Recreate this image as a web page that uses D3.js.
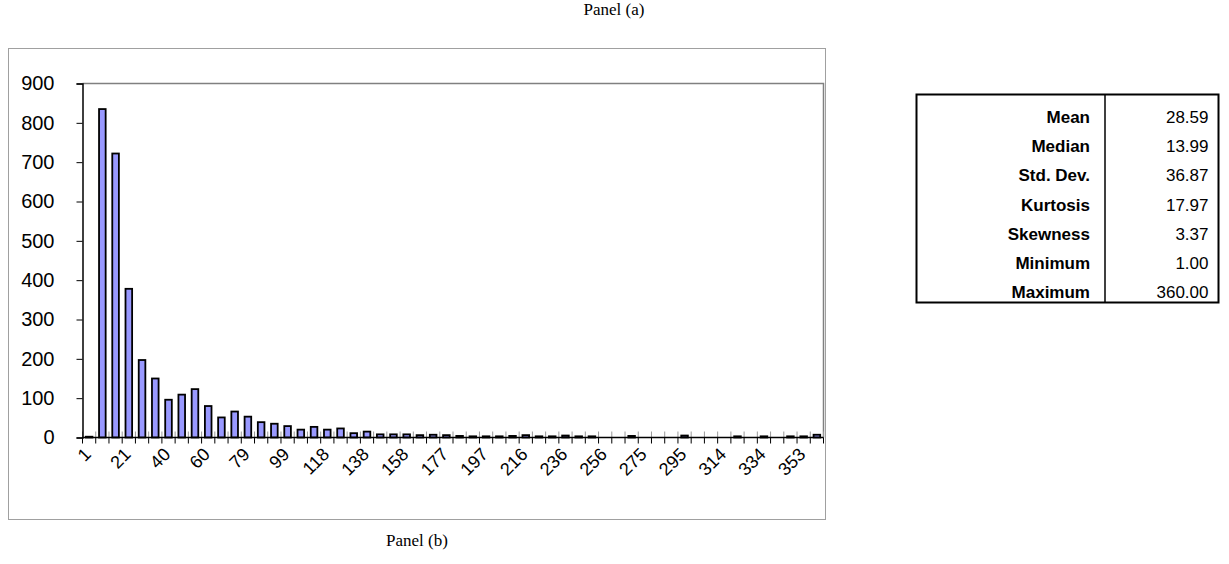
<!DOCTYPE html>
<html>
<head>
<meta charset="utf-8">
<script src="https://cdn.jsdelivr.net/npm/d3@7"></script>
<style>
  body { margin: 0; background: #fff; }
  svg { display: block; }
</style>
</head>
<body>
<svg id="chart" width="1229" height="564"></svg>
<script>
// Histogram bins (lower bound of each bin, rounded)
const categories = [
  "1","8","14","21","27","34","40","47","53","60","66","73","79","86","92","99",
  "105","112","118","125","132","138","145","151","158","164","171","177","184","190",
  "197","203","210","216","223","229","236","243","249","256","262","269","275","282",
  "288","295","301","308","314","321","327","334","340","347","353","360"
];
// Frequency per bin
const counts = [
  2, 835, 722, 378, 197, 150, 96, 109, 123, 80, 51, 66, 53, 39, 35, 29,
  20, 27, 20, 23, 11, 15, 8, 8, 8, 6, 7, 6, 4, 3,
  3, 3, 4, 6, 3, 3, 5, 3, 3, 0, 0, 4, 0, 0,
  0, 5, 0, 0, 0, 3, 0, 3, 0, 3, 3, 7
];
// Labelled bins on the horizontal axis
const tickLabels = ["1","21","40","60","79","99","118","138","158","177","197","216","236","256","275","295","314","334","353"];
const yTicks = [0, 100, 200, 300, 400, 500, 600, 700, 800, 900];

// Descriptive statistics
const statNames = ["Mean", "Median", "Std. Dev.", "Kurtosis", "Skewness", "Minimum", "Maximum"];
const statValues = ["28.59", "13.99", "36.87", "17.97", "3.37", "1.00", "360.00"];

const svg = d3.select("#chart");
const sans = "'Liberation Sans', Arial, sans-serif";
const serif = "'Liberation Serif', 'Times New Roman', serif";

// Titles
svg.append("text").attr("x", 614).attr("y", 15).attr("text-anchor", "middle")
  .attr("font-family", serif).attr("font-size", 17).text("Panel (a)");
svg.append("text").attr("x", 417).attr("y", 546).attr("text-anchor", "middle")
  .attr("font-family", serif).attr("font-size", 17).text("Panel (b)");

// Chart frame
svg.append("rect").attr("x", 8.5).attr("y", 48.5).attr("width", 817).attr("height", 471)
  .attr("fill", "none").attr("stroke", "#a0a0a0").attr("stroke-width", 1);

const plot = { left: 82.5, right: 823.5, top: 83.5, bottom: 437.5 };

const x = d3.scaleBand().domain(categories)
  .range([plot.left, plot.right]).paddingInner(0.5).paddingOuter(0.25);
const y = d3.scaleLinear().domain([0, 900]).range([plot.bottom, plot.top]);
const step = x.step();
const gapHalf = (step - x.bandwidth()) / 2;

// Plot area top and right edges
svg.append("path")
  .attr("d", `M${plot.left},${plot.top}H${plot.right}V${plot.bottom}`)
  .attr("fill", "none").attr("stroke", "#808080").attr("stroke-width", 1.5);

// Bars
svg.append("g").selectAll("rect").data(categories).join("rect")
  .attr("x", d => x(d))
  .attr("y", (d, i) => y(counts[i]))
  .attr("width", x.bandwidth())
  .attr("height", (d, i) => y(0) - y(counts[i]))
  .attr("fill", "#9999ff").attr("stroke", "#000").attr("stroke-width", 1.8);

// Category boundary ticks crossing the baseline
const bounds = categories.map(c => x(c) - gapHalf).concat([plot.right]);
const tg = svg.append("g");
tg.selectAll("line.up").data(bounds).join("line").attr("class", "up")
  .attr("x1", d => d).attr("x2", d => d)
  .attr("y1", y(0) - 6).attr("y2", y(0))
  .attr("stroke", "#999").attr("stroke-width", 1);
tg.selectAll("line.dn").data(bounds).join("line").attr("class", "dn")
  .attr("x1", d => d).attr("x2", d => d)
  .attr("y1", y(0)).attr("y2", y(0) + 6)
  .attr("stroke", "#000").attr("stroke-width", 1);

// X axis labels
const xAxis = d3.axisBottom(x).tickValues(tickLabels).tickSize(0).tickPadding(0);
const gx = svg.append("g").attr("transform", `translate(0,${plot.bottom})`).call(xAxis);
gx.select(".domain").remove();
gx.selectAll("text")
  .attr("font-family", sans).attr("font-size", 18).attr("fill", "#000")
  .attr("text-anchor", "end")
  .attr("dy", null)
  .attr("transform", "translate(3,18) rotate(-45)");

// Baseline
svg.append("line").attr("x1", plot.left).attr("x2", plot.right)
  .attr("y1", y(0)).attr("y2", y(0)).attr("stroke", "#000").attr("stroke-width", 1.5);

// Y axis
const yAxis = d3.axisLeft(y).tickValues(yTicks).tickSize(6).tickPadding(22);
const gy = svg.append("g").attr("transform", `translate(${plot.left},0)`).call(yAxis);
gy.select(".domain").attr("stroke", "#000").attr("stroke-width", 1.5);
gy.selectAll(".tick line").attr("stroke", "#000");
gy.selectAll("text").attr("font-family", sans).attr("font-size", 20).attr("fill", "#000");

// Statistics table
const tbl = { left: 916.5, right: 1218.5, top: 94.5, bottom: 302.5, split: 1105 };
const textTop = tbl.top + 8, textBottom = tbl.bottom + 4;
const rowH = (textBottom - textTop) / statNames.length;
const tg2 = svg.append("g");
tg2.append("rect").attr("x", tbl.left).attr("y", tbl.top)
  .attr("width", tbl.right - tbl.left).attr("height", tbl.bottom - tbl.top)
  .attr("fill", "none").attr("stroke", "#000").attr("stroke-width", 2);
tg2.append("line").attr("x1", tbl.split).attr("x2", tbl.split)
  .attr("y1", tbl.top).attr("y2", tbl.bottom).attr("stroke", "#000").attr("stroke-width", 1.5);
tg2.selectAll("text.name").data(statNames).join("text").attr("class", "name")
  .attr("x", tbl.split - 15).attr("y", (d, i) => textTop + rowH * (i + 0.5))
  .attr("dy", "0.36em").attr("text-anchor", "end")
  .attr("font-family", sans).attr("font-size", 17).attr("font-weight", "bold")
  .text(d => d);
tg2.selectAll("text.val").data(statValues).join("text").attr("class", "val")
  .attr("x", tbl.right - 10).attr("y", (d, i) => textTop + rowH * (i + 0.5))
  .attr("dy", "0.36em").attr("text-anchor", "end")
  .attr("font-family", sans).attr("font-size", 17)
  .text(d => d);
</script>
</body>
</html>
